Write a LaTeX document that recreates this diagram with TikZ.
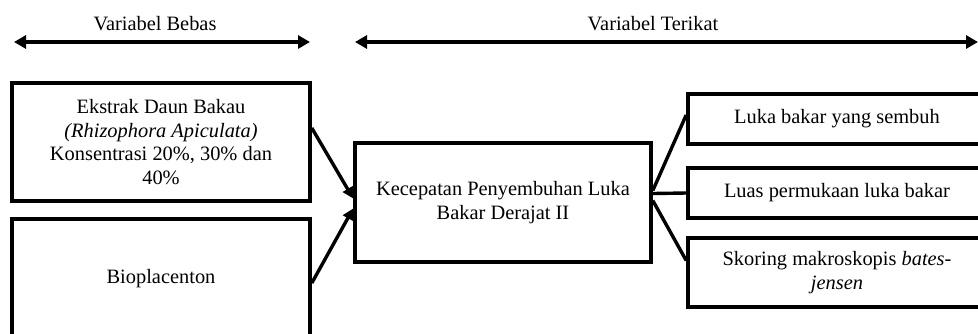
\documentclass[tikz,border=0pt]{standalone}
\usepackage{fontspec}
\setmainfont{Liberation Serif}
\usetikzlibrary{arrows.meta,calc}
\begin{document}
\begin{tikzpicture}[x=1pt,y=-1pt,
  every node/.style={font=\fontsize{20.4}{23.6}\selectfont, align=center, inner sep=0pt},
  varbox/.style={draw, line width=3.6pt, rectangle, minimum width=298pt},
  link/.style={line width=3.4pt},
  feed/.style={line width=3.4pt, -{Triangle[length=11pt,width=11pt]}},
  span/.style={line width=3.8pt, {Triangle[length=12pt,width=13pt]}-{Triangle[length=12pt,width=13pt]}}
]
\useasboundingbox (0,0) rectangle (978,333);
\clip (0,0) rectangle (978,333);

% column headings
\node (hbebas) at (155,24) {Variabel Bebas};
\node (hterikat) at (653,24) {Variabel Terikat};
\coordinate (sbL) at (14,42);
\coordinate (sbR) at (310,42);
\coordinate (stL) at (355,42);
\coordinate (stR) at (978,42);
\draw[span] (sbL) -- (sbR);
\draw[span] (stL) -- (stR);

% independent variables
\node[varbox, minimum height=118pt] (ekstrak) at (161,142)
  {Ekstrak Daun Bakau\\\textit{(Rhizophora Apiculata)}\\Konsentrasi 20\%, 30\% dan\\40\%};
\node[varbox, minimum height=120pt] (bio) at (161,279) {Bioplacenton};

% dependent variable
\node[varbox, minimum width=296pt, minimum height=119pt] (laju) at (503,202.5)
  {Kecepatan Penyembuhan Luka\\Bakar Derajat II};

% indicators
\node[varbox, minimum height=50pt] (sembuh) at (837,119) {Luka bakar yang sembuh};
\node[varbox, minimum height=50pt] (luas) at (837,193) {Luas permukaan luka bakar};
\node[varbox, minimum height=69pt] (skor) at (837,272.5)
  {Skoring makroskopis \textit{bates-}\\\textit{jensen}};

% connectors
\draw[feed] ($(ekstrak.east)+(0,-14)$) -- ($(laju.west)+(0,-4)$);
\draw[feed] ($(bio.east)+(0,4)$) -- ($(laju.west)+(0,6)$);
\coordinate (hub) at ($(laju.east)+(0,-12)$);
\draw[link] (hub) -- ($(sembuh.west)+(0,-4)$);
\draw[link] ($(laju.east)+(0,-9)$) -- (luas.west);
\draw[link] ($(laju.east)+(0,-2)$) -- ($(skor.west)+(0,-12)$);
\end{tikzpicture}
\end{document}
